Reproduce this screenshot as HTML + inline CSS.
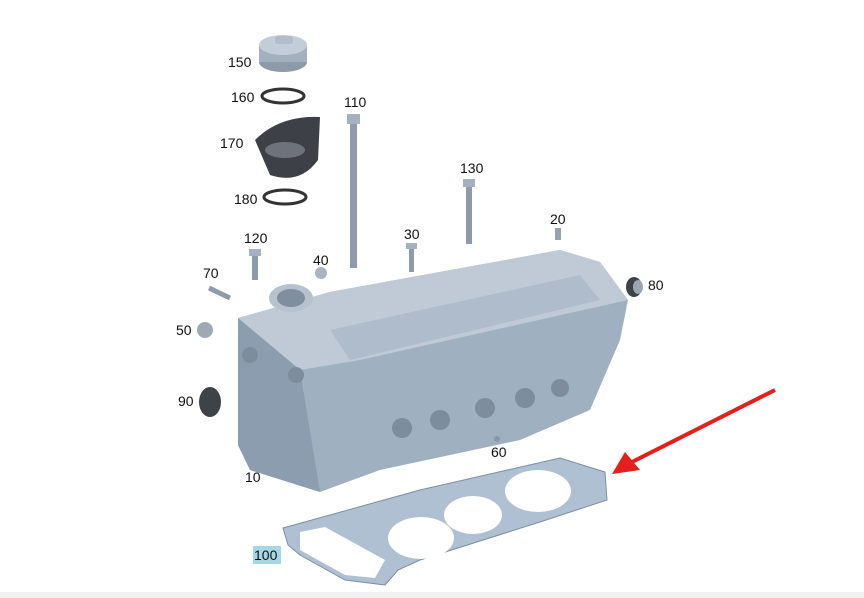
<!DOCTYPE html>
<html><head><style>
body{margin:0;width:864px;height:598px;background:#fff;overflow:hidden;font-family:"Liberation Sans",sans-serif}
svg{display:block}
text{font-family:"Liberation Sans",sans-serif;font-size:14px;fill:#111}
</style></head><body>
<svg width="864" height="598" viewBox="0 0 864 598">
<rect x="0" y="592" width="864" height="6" fill="#f1f1f1"/>
<!-- cap 150 -->
<ellipse cx="283" cy="62" rx="24" ry="10" fill="#8d9aa8"/>
<rect x="259" y="45" width="48" height="17" fill="#a3b0bd"/>
<ellipse cx="283" cy="45" rx="24" ry="10" fill="#c3cdd7"/>
<rect x="275" y="36" width="18" height="8" rx="3" fill="#b0bcc8"/>
<!-- 160 ring -->
<ellipse cx="283" cy="96" rx="21" ry="7" fill="none" stroke="#333" stroke-width="3"/>
<!-- 170 -->
<path d="M255,140 Q280,115 320,117 L318,160 Q300,185 270,175 Z" fill="#3d4147"/>
<ellipse cx="285" cy="150" rx="20" ry="8" fill="#6c737b"/>
<!-- 180 ring -->
<ellipse cx="285" cy="197" rx="21" ry="7" fill="none" stroke="#333" stroke-width="3"/>
<!-- bolts -->
<rect x="350" y="118" width="7" height="150" fill="#8e9baa"/><rect x="347" y="114" width="13" height="10" fill="#a4b1bf"/>
<rect x="466" y="182" width="6" height="62" fill="#8e9baa"/><rect x="463" y="179" width="12" height="8" fill="#a4b1bf"/>
<rect x="252" y="252" width="6" height="28" fill="#8e9baa"/><rect x="249" y="249" width="12" height="7" fill="#a4b1bf"/>
<rect x="409" y="246" width="5" height="26" fill="#8e9baa"/><rect x="406" y="243" width="11" height="6" fill="#a4b1bf"/>
<rect x="555" y="228" width="6" height="12" fill="#95a3b1"/>
<circle cx="321" cy="273" r="6" fill="#a9b5c1"/>
<line x1="209" y1="288" x2="230" y2="298" stroke="#8e9baa" stroke-width="5"/>
<circle cx="205" cy="330" r="8" fill="#9ea9b4"/>
<ellipse cx="634" cy="287" rx="8" ry="10" fill="#3e4349"/><ellipse cx="638" cy="287" rx="5" ry="7" fill="#9aa6b2"/>
<ellipse cx="210" cy="402" rx="11" ry="15" fill="#3e4349"/>
<!-- engine head -->
<path d="M238,318 L330,292 L560,250 L600,262 L628,300 L620,340 L590,410 L520,440 L380,470 L320,492 L250,470 L238,445 Z" fill="#9fb0c1"/>
<path d="M238,318 L330,292 L560,250 L600,262 L628,300 L360,360 L300,370 Z" fill="#bfcad6"/>
<path d="M238,318 L300,370 L320,492 L250,470 L238,445 Z" fill="#8c9db0"/>
<ellipse cx="291" cy="298" rx="22" ry="14" fill="#b6c2ce"/><ellipse cx="291" cy="298" rx="14" ry="9" fill="#7f8fa0"/>
<path d="M330,330 L580,275 L600,300 L350,360 Z" fill="#aebccb"/>
<g fill="#7d8d9e"><circle cx="402" cy="428" r="10"/><circle cx="440" cy="420" r="10"/><circle cx="485" cy="408" r="10"/><circle cx="525" cy="398" r="10"/><circle cx="560" cy="388" r="9"/><circle cx="250" cy="355" r="8"/><circle cx="296" cy="375" r="8"/></g>
<circle cx="497" cy="439" r="3" fill="#8a97a5"/>
<!-- gasket -->
<path d="M283,528 L420,490 L560,458 L605,472 L607,500 L540,522 L420,560 L398,570 L385,585 L345,580 L300,555 L288,545 Z" fill="#aec0d2" stroke="#7c8fa3" stroke-width="1"/>
<g fill="#fff"><ellipse cx="421" cy="538" rx="33" ry="21"/><ellipse cx="473" cy="515" rx="29" ry="19"/><ellipse cx="538" cy="491" rx="33" ry="21"/>
<path d="M300,532 L325,527 L385,560 L375,578 L345,575 L300,550 Z"/></g>
<!-- arrow -->
<line x1="775" y1="390" x2="630" y2="463" stroke="#e3201b" stroke-width="4"/>
<path d="M612,474 L625,452 L640,470 Z" fill="#e3201b"/>
<!-- labels -->
<text x="228" y="67">150</text><text x="231" y="102">160</text><text x="344" y="107">110</text>
<text x="220" y="148">170</text><text x="460" y="173">130</text><text x="234" y="204">180</text>
<text x="550" y="224">20</text><text x="244" y="243">120</text><text x="404" y="239">30</text>
<text x="313" y="265">40</text><text x="203" y="278">70</text><text x="648" y="290">80</text>
<text x="176" y="335">50</text><text x="178" y="406">90</text><text x="245" y="482">10</text>
<text x="491" y="457">60</text>
<rect x="253" y="546" width="28" height="18" fill="#a5d6e6"/><text x="254" y="560">100</text>
</svg>
</body></html>
